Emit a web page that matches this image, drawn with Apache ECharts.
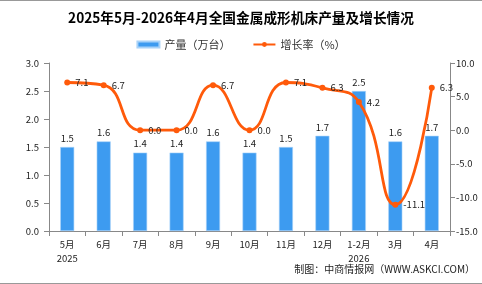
<!DOCTYPE html>
<html>
<head>
<meta charset="utf-8">
<script src="https://cdn.jsdelivr.net/npm/echarts@6/dist/echarts.min.js"></script>
<style>
  html, body { margin: 0; padding: 0; background: #fff; }
  #main { width: 482px; height: 284px; box-sizing: border-box; border-top: 1px solid #999; border-bottom: 1px solid #999; }
</style>
</head>
<body>
<div id="main"></div>
<script>
// data
const categories = ['5月\n2025', '6月', '7月', '8月', '9月', '10月', '11月', '12月', '1-2月\n2026', '3月', '4月'];
const output = [1.5, 1.6, 1.4, 1.4, 1.6, 1.4, 1.5, 1.7, 2.5, 1.6, 1.7];
const growth = [7.1, 6.7, 0.0, 0.0, 6.7, 0.0, 7.1, 6.3, 4.2, -11.1, 6.3];
const leftTicks = [0, 3, 0.5];
const rightTicks = [-15, 10, 5];

const font = '"Noto Sans CJK SC", "DejaVu Sans", sans-serif';
const myChart = echarts.init(document.querySelector('#main'));

let option = {
    animation: false,
    textStyle: { fontFamily: font },
    title: {
        text: '2025年5月-2026年4月全国金属成形机床产量及增长情况',
        left: 'center',
        top: 5,
        textStyle: { fontSize: 13.7, fontWeight: 'bold', color: '#000', fontFamily: font }
    },
    legend: {
        top: 33,
        left: 'center',
        itemWidth: 22,
        itemHeight: 6,
        itemGap: 22,
        textStyle: { fontSize: 11, color: '#333', fontFamily: font },
        data: [
            { name: '产量（万台）', icon: 'rect' },
            { name: '增长率（%）' }
        ]
    },
    grid: { left: 49, right: 32, top: 62, bottom: 52 },
    xAxis: {
        type: 'category',
        data: categories,
        axisLine: { lineStyle: { color: '#888' } },
        axisTick: { show: true, alignWithLabel: false, lineStyle: { color: '#888' } },
        axisLabel: { color: '#222', fontSize: 9.5, lineHeight: 14, margin: 6, fontFamily: font }
    },
    yAxis: [
        {
            type: 'value',
            min: leftTicks[0],
            max: leftTicks[1],
            interval: leftTicks[2],
            splitLine: { show: false },
            axisLine: { show: true, lineStyle: { color: '#888' } },
            axisTick: { show: true, lineStyle: { color: '#888' } },
            axisLabel: {
                color: '#222', fontSize: 9.5, margin: 10,
                formatter: v => v.toFixed(1)
            }
        },
        {
            type: 'value',
            min: rightTicks[0],
            max: rightTicks[1],
            interval: rightTicks[2],
            splitLine: { show: false },
            axisLine: { show: true, lineStyle: { color: '#888' } },
            axisTick: { show: true, lineStyle: { color: '#888' } },
            axisLabel: {
                color: '#222', fontSize: 9.5, margin: 6,
                formatter: v => v.toFixed(1)
            }
        }
    ],
    series: [
        {
            name: '产量（万台）',
            type: 'bar',
            yAxisIndex: 0,
            barWidth: 14,
            data: output,
            itemStyle: { color: '#3d9bf0', borderColor: '#a8d2f8', borderWidth: 0.6 },
            label: {
                show: true,
                position: 'top',
                distance: 4,
                fontSize: 9.5,
                color: '#222',
                formatter: p => p.value.toFixed(1)
            }
        },
        {
            name: '增长率（%）',
            type: 'line',
            yAxisIndex: 1,
            smooth: 0.5,
            data: growth,
            symbol: 'circle',
            symbolSize: 6,
            lineStyle: { color: '#ff5a0a', width: 2.8 },
            itemStyle: { color: '#ff5a0a' },
            label: {
                show: true,
                position: 'right',
                distance: 5,
                fontSize: 9.5,
                color: '#222',
                formatter: p => p.value.toFixed(1)
            },
            z: 5
        }
    ],
    graphic: [
        {
            type: 'text',
            right: 7,
            top: 263,
            style: {
                text: '制图：中商情报网（WWW.ASKCI.COM）',
                fill: '#222',
                font: '10px ' + font
            }
        }
    ]
};

myChart.setOption(option, true);
</script>
</body>
</html>
